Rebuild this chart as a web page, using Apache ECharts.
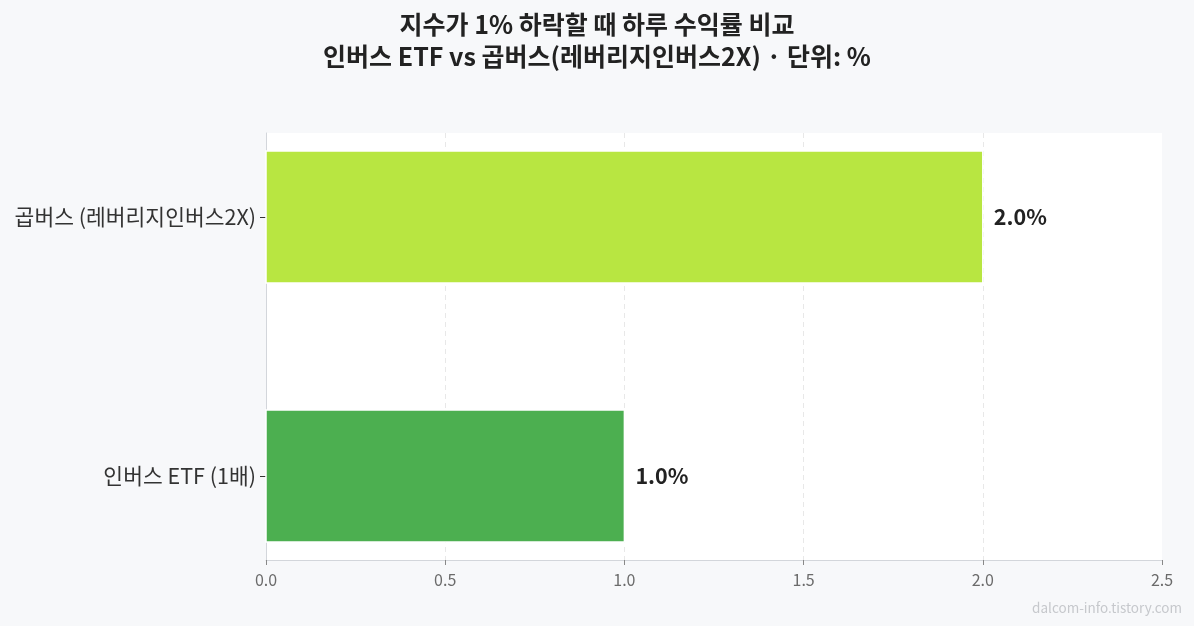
<!DOCTYPE html>
<html><head><meta charset="utf-8">
<script src="https://cdn.jsdelivr.net/npm/echarts@6/dist/echarts.min.js"></script>
<style>html,body{margin:0;padding:0;background:#f7f8fa;}#c{width:1194px;height:626px;}</style>
</head><body><div id="c"></div>
<script>
const categories = ['인버스 ETF (1배)', '곱버스 (레버리지인버스2X)'];
const values = [1.0, 2.0];
const colors = ['#4caf50', '#b8e641'];
const xTicks = [0, 0.5, 1.0, 1.5, 2.0, 2.5];
const titleText = '지수가 1% 하락할 때 하루 수익률 비교\n인버스 ETF vs 곱버스(레버리지인버스2X) · 단위: %';
const watermark = 'dalcom-info.tistory.com';

const FONT = "'Noto Sans CJK KR', 'Noto Sans', sans-serif";
const BAR_H = 0.51;
const chart = echarts.init(document.getElementById('c'));
chart.setOption({
  backgroundColor: '#f7f8fa',
  textStyle: { fontFamily: FONT },
  title: {
    text: titleText, left: 'center', top: 3,
    textStyle: { fontFamily: FONT, fontSize: 25, fontWeight: 'bold', color: '#222', lineHeight: 32 }
  },
  graphic: [{
    type: 'text', right: 12, bottom: 11,
    style: { text: watermark, fontFamily: FONT, fontSize: 13.5, fill: '#c6c8cc' }
  }],
  grid: { left: 266, right: 32, top: 133, bottom: 66, show: true, backgroundColor: '#ffffff', borderWidth: 0 },
  xAxis: {
    type: 'value', min: 0, max: 2.5, interval: 0.5,
    axisLine: { show: true, onZero: false, lineStyle: { color: '#d3d6db', width: 1 } },
    axisTick: { show: true, length: 5, lineStyle: { color: '#888' } },
    axisLabel: { color: '#6b6b6b', fontSize: 16, margin: 12, formatter: v => v.toFixed(1) },
    splitLine: { show: true, showMinLine: false, showMaxLine: false, lineStyle: { color: '#e8e8e8', type: [5, 4], width: 1 } }
  },
  yAxis: {
    type: 'value', min: -0.325, max: 1.325,
    axisLine: { show: true, onZero: false, lineStyle: { color: '#d3d6db', width: 1 } },
    axisTick: { show: true, length: 6, lineStyle: { color: '#333' }, customValues: [0, 1] },
    axisLabel: { color: '#333', fontSize: 21.5, margin: 10, customValues: [0, 1], formatter: v => categories[Math.round(v)] || '' },
    splitLine: { show: false }
  },
  series: [{
    type: 'custom',
    data: values.map((v, i) => [v, i]),
    encode: { x: 0, y: 1 },
    renderItem: (params, api) => {
      const v = api.value(0), y = api.value(1);
      const p0 = api.coord([0, y + BAR_H / 2]);
      const p1 = api.coord([v, y - BAR_H / 2]);
      const pc = api.coord([v, y]);
      return {
        type: 'group',
        children: [{
          type: 'rect',
          shape: { x: p0[0], y: p0[1], width: p1[0] - p0[0], height: p1[1] - p0[1] },
          style: { fill: colors[params.dataIndex], stroke: '#ffffff', lineWidth: 1.5 }
        }, {
          type: 'text',
          x: pc[0] + 11, y: pc[1],
          style: {
            text: v.toFixed(1) + '%', fontFamily: FONT, fontSize: 21.5, fontWeight: 'bold',
            fill: '#222', verticalAlign: 'middle', align: 'left'
          }
        }]
      };
    }
  }],
  animation: false
});
</script></body></html>
